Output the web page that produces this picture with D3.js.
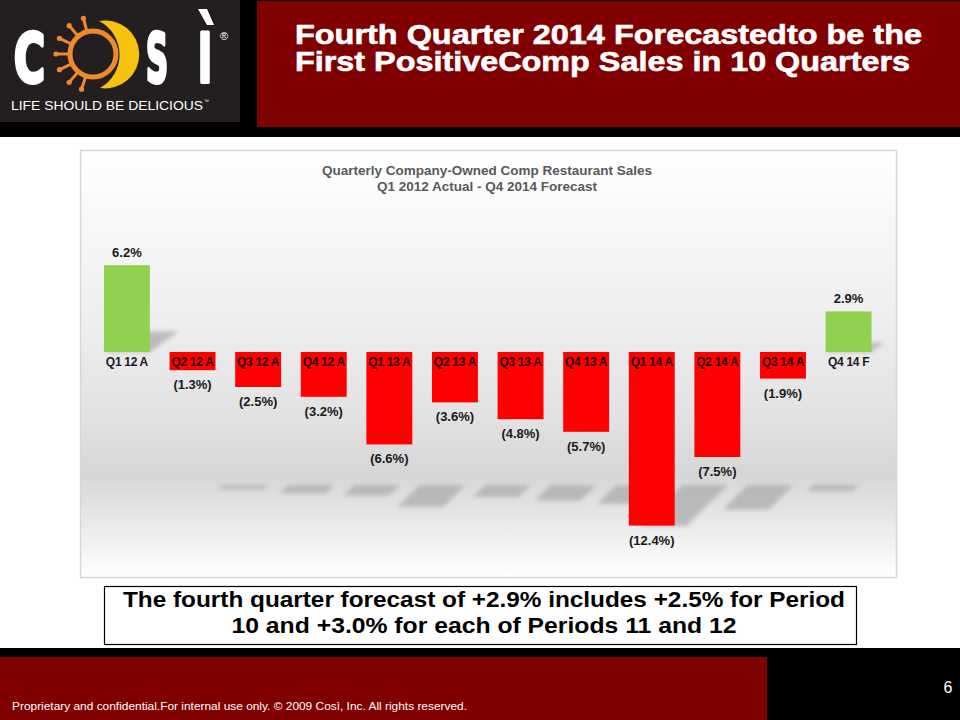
<!DOCTYPE html>
<html><head><meta charset="utf-8">
<script src="https://cdn.jsdelivr.net/npm/d3@7"></script>
<style>html,body{margin:0;padding:0;background:#000;} svg{display:block;}</style>
</head><body>
<svg id="c" width="960" height="720"></svg>
<script>
// ---- data ----
const categories = ["Q1 12 A","Q2 12 A","Q3 12 A","Q4 12 A","Q1 13 A","Q2 13 A","Q3 13 A","Q4 13 A","Q1 14 A","Q2 14 A","Q3 14 A","Q4 14 F"];
const values = [6.2, -1.3, -2.5, -3.2, -6.6, -3.6, -4.8, -5.7, -12.4, -7.5, -1.9, 2.9];
const titleLines = ["Fourth Quarter 2014 Forecastedto be the", "First PositiveComp Sales in 10 Quarters"];
const chartTitleLines = ["Quarterly Company-Owned Comp Restaurant Sales", "Q1 2012 Actual - Q4 2014 Forecast"];
const noteLines = ["The fourth quarter forecast of +2.9% includes +2.5% for Period", "10 and +3.0% for each of Periods 11 and 12"];
const footerText = "Proprietary and confidential.For internal use only. © 2009 Così, Inc. All rights reserved.";
const pageNumber = "6";
const tagline = "LIFE SHOULD BE DELICIOUS";

const fmt = v => v >= 0 ? v.toFixed(1) + "%" : "(" + Math.abs(v).toFixed(1) + "%)";
const data = categories.map((c, i) => ({cat: c, v: values[i]}));

const svg = d3.select("#c");
const FONT = "'Liberation Sans', Arial, Helvetica, sans-serif";

// ---- defs ----
const defs = svg.append("defs");
const g1 = defs.append("linearGradient").attr("id", "bg").attr("x1", 0).attr("y1", 0).attr("x2", 0).attr("y2", 1);
[["0%", "#ffffff"], ["40%", "#eeeeee"], ["62%", "#e2e2e2"], ["76%", "#d6d6d6"], ["100%", "#ffffff"]]
  .forEach(([o, c]) => g1.append("stop").attr("offset", o).attr("stop-color", c));
defs.append("filter").attr("id", "blur").attr("x", "-30%").attr("y", "-30%").attr("width", "160%").attr("height", "160%")
  .append("feGaussianBlur").attr("stdDeviation", 2);

// ---- page frame ----
svg.append("rect").attr("x", 0).attr("y", 0).attr("width", 960).attr("height", 720).attr("fill", "#000");
svg.append("rect").attr("x", 0).attr("y", 137).attr("width", 960).attr("height", 511).attr("fill", "#fff");
// header title box
svg.append("rect").attr("x", 257).attr("y", 1).attr("width", 703).attr("height", 126).attr("fill", "#800000");
svg.append("g").selectAll("text").data(titleLines).join("text")
  .attr("x", 295).attr("y", (d, i) => 44 + i * 27)
  .attr("textLength", (d, i) => i === 0 ? 627 : 615).attr("lengthAdjust", "spacingAndGlyphs")
  .attr("fill", "#fff").attr("stroke", "#fff").attr("stroke-width", 0.6)
  .attr("font-family", FONT).attr("font-weight", "bold").attr("font-size", 27)
  .text(d => d);

// logo box
const logo = svg.append("g");
logo.append("rect").attr("x", 0).attr("y", 0).attr("width", 240).attr("height", 122).attr("fill", "#231f20");
const letterStyle = s => s.attr("fill", "#fff").attr("stroke", "#fff").attr("stroke-width", 4).attr("stroke-linejoin", "round")
  .attr("font-family", "'Liberation Sans Narrow','DejaVu Sans Condensed'," + FONT)
  .attr("font-weight", "bold").attr("font-size", 68).attr("lengthAdjust", "spacingAndGlyphs");
logo.append("text").attr("x", 14).attr("y", 82).attr("textLength", 31).text("C").call(letterStyle);
logo.append("text").attr("x", 146).attr("y", 82).attr("textLength", 22).text("S").call(letterStyle);
logo.append("text").attr("x", 198).attr("y", 82).attr("textLength", 14).text("I").call(letterStyle);
logo.append("path").attr("d", "M198,9 L207,9 L214,25 L207,25 Z").attr("fill", "#fff");
logo.append("text").attr("x", 220).attr("y", 40).attr("fill", "#fff").attr("font-family", FONT).attr("font-size", 11).text("®");
// sun
const sc = [93, 54], sr = 23;
const rays = [-105, -130, -155, -180, 155, 130, 108];
rays.forEach(a => {
  const t = a * Math.PI / 180;
  const x1 = sc[0] + Math.cos(t) * sr, y1 = sc[1] + Math.sin(t) * sr;
  const x2 = sc[0] + Math.cos(t) * (sr + 14), y2 = sc[1] + Math.sin(t) * (sr + 14);
  logo.append("line").attr("x1", x1).attr("y1", y1).attr("x2", x2).attr("y2", y2)
    .attr("stroke", "#ee8a2a").attr("stroke-width", 3).attr("stroke-linecap", "round");
  logo.append("circle").attr("cx", x2).attr("cy", y2).attr("r", 2.6).attr("fill", "#ee8a2a");
});
logo.append("circle").attr("cx", sc[0]).attr("cy", sc[1]).attr("r", sr).attr("fill", "none")
  .attr("stroke", "#ee8a2a").attr("stroke-width", 5);
logo.append("path").attr("d", "M99,21 A34,34 0 1,1 100,88 A38,38 0 0,0 99,21 Z").attr("fill", "#f6c20f");
const tg = logo.append("text").attr("x", 11).attr("y", 110)
  .attr("fill", "#fff").attr("font-family", FONT).attr("font-size", 12.5);
tg.append("tspan").attr("textLength", 192).attr("lengthAdjust", "spacingAndGlyphs").text(tagline);
tg.append("tspan").attr("font-size", 5).attr("dy", -7).attr("dx", 1).text("™");

// ---- chart panel ----
svg.append("rect").attr("x", 80.5).attr("y", 150.5).attr("width", 816).attr("height", 427)
  .attr("fill", "url(#bg)").attr("stroke", "#d6d6d6").attr("stroke-width", 1.5);
svg.append("g").selectAll("text").data(chartTitleLines).join("text")
  .attr("x", 487).attr("y", (d, i) => 175 + i * 16).attr("text-anchor", "middle")
  .attr("fill", "#595959").attr("font-family", FONT).attr("font-weight", "bold").attr("font-size", 13.5)
  .text(d => d);

const x = d3.scaleBand().domain(categories).range([81, 894.5]).paddingInner(0.3).paddingOuter(0.35);
const y = d3.scaleLinear().domain([-14, 8]).range([548, 240]);
const sh = d3.scaleLinear().domain([0, 12.4]).range([0, 41]);
const floorY = y(-9.5);
const bw = x.bandwidth();

// shadows
const shadows = svg.append("g").attr("filter", "url(#blur)").attr("fill", "#b0b0b0").attr("opacity", 0.8);
data.forEach(d => {
  const x0 = x(d.cat), h = Math.max(4, sh(Math.abs(d.v)));
  if (d.v >= 0) {
    const b = y(0), dx = h * 1.4;
    shadows.append("path").attr("d", `M${x0},${b} L${x0 + bw},${b} L${x0 + bw + dx},${b - h} L${x0 + dx},${b - h} Z`);
  } else {
    const sx = x0 + 53;
    shadows.append("path").attr("d", `M${sx},${floorY} L${sx + bw},${floorY} L${sx + bw - h},${floorY + h} L${sx - h},${floorY + h} Z`);
  }
});

// bars
svg.append("g").selectAll("rect").data(data).join("rect")
  .attr("x", d => x(d.cat)).attr("width", bw)
  .attr("y", d => y(Math.max(0, d.v))).attr("height", d => Math.abs(y(d.v) - y(0)))
  .attr("fill", d => d.v >= 0 ? "#92d050" : "#ff0000");

// category labels
svg.append("g").selectAll("text").data(data).join("text")
  .attr("x", d => x(d.cat) + bw / 2).attr("y", y(0) + 14).attr("text-anchor", "middle")
  .attr("fill", d => d.v >= 0 ? "#1a1a1a" : "#2a0000")
  .attr("font-family", FONT).attr("font-weight", "bold").attr("font-size", 12).attr("letter-spacing", -0.3)
  .text(d => d.cat);

// value labels
svg.append("g").selectAll("text").data(data).join("text")
  .attr("x", d => x(d.cat) + bw / 2)
  .attr("y", d => d.v >= 0 ? y(d.v) - 8 : y(d.v) + 19).attr("text-anchor", "middle")
  .attr("fill", "#1a1a1a").attr("font-family", FONT).attr("font-weight", "bold").attr("font-size", 13)
  .text(d => fmt(d.v));

// ---- note box ----
svg.append("rect").attr("x", 104.5).attr("y", 586.5).attr("width", 752).attr("height", 58)
  .attr("fill", "#fff").attr("stroke", "#000").attr("stroke-width", 1.2);
svg.append("g").selectAll("text").data(noteLines).join("text")
  .attr("x", 484).attr("y", (d, i) => 607 + i * 25.5).attr("text-anchor", "middle")
  .attr("textLength", (d, i) => i === 0 ? 722 : 505).attr("lengthAdjust", "spacingAndGlyphs")
  .attr("fill", "#000").attr("font-family", FONT).attr("font-weight", "bold").attr("font-size", 21.5)
  .text(d => d);

// ---- footer ----
svg.append("rect").attr("x", 0).attr("y", 657).attr("width", 767).attr("height", 63).attr("fill", "#800000");
svg.append("text").attr("x", 12).attr("y", 710).attr("textLength", 455).attr("lengthAdjust", "spacingAndGlyphs")
  .attr("fill", "#fff").attr("font-family", FONT).attr("font-size", 11).text(footerText);
svg.append("text").attr("x", 948).attr("y", 693).attr("text-anchor", "middle")
  .attr("fill", "#fff").attr("font-family", FONT).attr("font-size", 16).text(pageNumber);
</script>
</body></html>
